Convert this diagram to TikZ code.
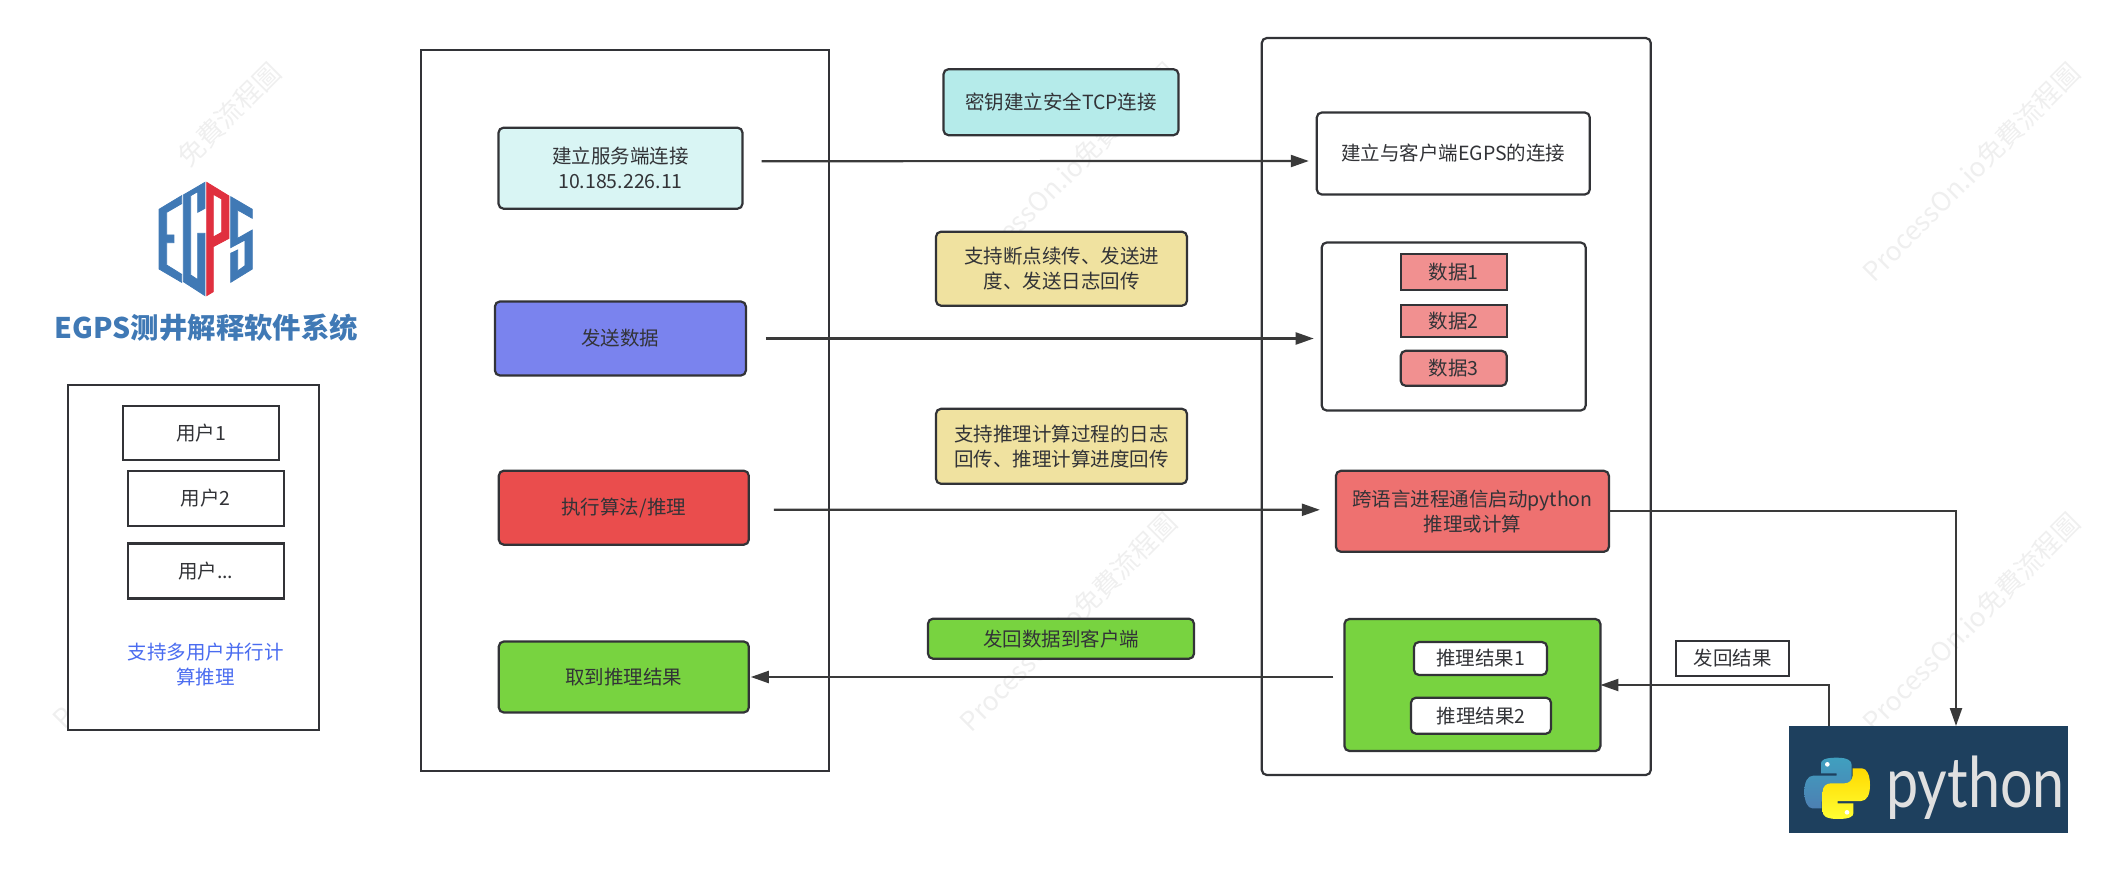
\documentclass[tikz,border=0pt]{standalone}
\usepackage{fontspec}
\usepackage{xcolor}
\usetikzlibrary{shapes.misc, arrows.meta}
\setmainfont{Noto Sans CJK SC}
\newfontfamily\wmfont{Noto Sans CJK TC}
\newfontfamily\pyfont{Lato}

\definecolor{edge}{HTML}{323337}
\definecolor{linecol}{HTML}{3A3A3A}
\definecolor{wmgray}{HTML}{EFEFEF}
\definecolor{paleteal}{HTML}{D9F5F4}
\definecolor{teal}{HTML}{B5EBEA}
\definecolor{violet}{HTML}{7A83EE}
\definecolor{sand}{HTML}{F0E2A0}
\definecolor{scarlet}{HTML}{EA4D4D}
\definecolor{coral}{HTML}{EE7170}
\definecolor{leaf}{HTML}{78D340}
\definecolor{pink}{HTML}{F19090}
\definecolor{linkblue}{HTML}{4A6CF0}
\definecolor{egpsblue}{HTML}{4079B5}
\definecolor{egpsred}{HTML}{E0303F}
\definecolor{pybg}{HTML}{1E405E}

\newcommand{\snakepath}{(78, 55) .. controls (78, 45) and (90, 38) .. (125, 38) .. controls (160, 38) and (170, 48) .. (170, 60) -- (170, 120) .. controls (170, 135) and (160, 145) .. (145, 145) -- (105, 145) .. controls (90, 145) and (80, 155) .. (80, 170) -- (80, 190) -- (52, 190) .. controls (38, 190) and (28, 170) .. (28, 140) .. controls (28, 110) and (38, 92) .. (55, 92) -- (125, 92) -- (125, 85) -- (78, 85) -- cycle}

\tikzset{
  every node/.style = {font = \fontsize{19.5}{25}\selectfont, text = edge, inner sep = 0, outer sep = 0},
  plain/.style = {draw = edge, line width = 2.2, fill = white},
  soft/.style = {plain, rounded corners = 5},
  conn/.style = {draw = linecol, line width = 2.2, -{Triangle[length = 18, width = 12]}},
  wmark/.style = {font = \wmfont\fontsize{26.5}{26.5}\selectfont, text = wmgray, rotate = 45},
  logoblue/.style = {fill = egpsblue, draw = egpsblue, line width = 0.8},
  logored/.style = {fill = egpsred, draw = egpsred, line width = 0.8},
}

\begin{document}
\begin{tikzpicture}[x = 1pt, y = -1pt]
\useasboundingbox (0, 0) rectangle (2105, 870);

\node [wmark] (wm0) at (229, 114) {免費流程圖};
\node [wmark] (wm1) at (64, 718) {P};
\node [wmark] (wm2) at (1068, 172) {ProcessOn.io免費流程圖};
\node [wmark] (wm3) at (1068, 622) {ProcessOn.io免費流程圖};
\node [wmark] (wm4) at (1971, 172) {ProcessOn.io免費流程圖};
\node [wmark] (wm5) at (1971, 622) {ProcessOn.io免費流程圖};

\begin{scope}[shift = {(150, 175)}, x = 0.3333pt, y = -0.3333pt]
\path [logoblue] (27, 103) -- (95, 62) -- (95, 86) -- (50, 112) -- (50, 180) -- (72, 180) -- (72, 203) -- (50, 203) -- (50, 270) -- (95, 298) -- (95, 322) -- (27, 282) -- cycle;
\path [logoblue] (100, 60) -- (165, 22) -- (165, 100) -- (143, 112) -- (143, 50) -- (122, 62) -- (122, 300) -- (143, 314) -- (143, 175) -- (165, 175) -- (165, 362) -- (100, 320) -- cycle;
\path [logored, even odd rule] (170, 22) -- (237, 63) -- (237, 190) -- (190, 215) -- (190, 350) -- (170, 362) -- cycle (190, 58) -- (215, 72) -- (215, 172) -- (190, 186) -- cycle;
\path [logoblue] (242, 65) -- (307, 103) -- (307, 130) -- (263, 105) -- (263, 190) -- (307, 165) -- (307, 282) -- (242, 322) -- (242, 235) -- (263, 225) -- (263, 288) -- (285, 272) -- (285, 195) -- (242, 218) -- cycle;
\end{scope}

\node [font = \bfseries\fontsize{28.4}{29}\selectfont, text = egpsblue] (title) at (206.5, 328) {EGPS测井解释软件系统};

\node [plain, minimum width = 251, minimum height = 345] (users) at (193.4, 557.8) {};
\node [plain, minimum width = 156, minimum height = 54] (user1) at (201.3, 433) {用户1};
\node [plain, minimum width = 156, minimum height = 55] (user2) at (205.7, 498.2) {用户2};
\node [plain, minimum width = 156, minimum height = 55] (user3) at (205.7, 571) {用户...};
\node [text = linkblue, align = center] (usernote) at (205.7, 665) {支持多用户并行计\\算推理};

\node [plain, minimum width = 408, minimum height = 721] (client) at (624.8, 410.5) {};
\node [soft, fill = paleteal, align = center, minimum width = 244, minimum height = 81] (linkS) at (620.5, 168.2) {建立服务端连接\\10.185.226.11};
\node [soft, fill = violet, minimum width = 251, minimum height = 74] (sendS) at (620.4, 338.5) {发送数据};
\node [soft, fill = scarlet, minimum width = 250, minimum height = 74] (runS) at (623.8, 507.7) {执行算法/推理};
\node [soft, fill = leaf, minimum width = 250, minimum height = 71] (fetchS) at (623.8, 677) {取到推理结果};

\node [soft, fill = teal, minimum width = 235, minimum height = 66] (keyTag) at (1061, 102.2) {密钥建立安全TCP连接};
\node [soft, fill = sand, align = center, minimum width = 251, minimum height = 74] (resumeTag) at (1061.5, 268.7) {支持断点续传、发送进\\度、发送日志回传};
\node [soft, fill = sand, align = center, minimum width = 251, minimum height = 75] (logTag) at (1061.5, 446.3) {支持推理计算过程的日志\\回传、推理计算进度回传};
\node [soft, fill = leaf, minimum width = 266, minimum height = 40] (backTag) at (1061, 638.7) {发回数据到客户端};

\node [soft, minimum width = 389, minimum height = 737] (server) at (1456.3, 406.5) {};
\node [soft, minimum width = 273, minimum height = 82] (linkC) at (1453.3, 153.5) {建立与客户端EGPS的连接};
\node [soft, minimum width = 264, minimum height = 168] (dataBox) at (1453.7, 326.5) {};
\node [plain, fill = pink, minimum width = 106, minimum height = 36] (data1) at (1453.7, 272) {数据1};
\node [plain, fill = pink, minimum width = 106, minimum height = 32] (data2) at (1453.7, 320.7) {数据2};
\node [soft, fill = pink, minimum width = 106, minimum height = 35] (data3) at (1453.7, 368.3) {数据3};
\node [soft, fill = coral, align = center, minimum width = 273, minimum height = 81] (runC) at (1472.4, 511.3) {跨语言进程通信启动python\\推理或计算};
\node [soft, fill = leaf, minimum width = 256, minimum height = 132] (resultBox) at (1472.4, 685) {};
\node [soft, minimum width = 133, minimum height = 33] (result1) at (1480.5, 658.5) {推理结果1};
\node [soft, minimum width = 140, minimum height = 36] (result2) at (1481, 715.7) {推理结果2};

\node [plain, minimum width = 113, minimum height = 35] (backNote) at (1732.7, 658.2) {发回结果};

\node [fill = pybg, minimum width = 279, minimum height = 107] (pyBox) at (1928.4, 779.5) {};
\node [font = \pyfont\fontsize{70}{70}\selectfont, text = black!12, anchor = base, xscale = 0.82, transform shape] (pyText) at (1975.5, 807) {python};
\begin{scope}[shift = {(1795, 745)}, x = 0.3333pt, y = -0.3333pt]
\shade [top color = blue!25!cyan!50!gray, bottom color = blue!50!cyan!40!gray] \snakepath;
\fill [white] (97, 58) circle [radius = 7];
\begin{scope}[rotate around = {180:(126.5, 130)}]
\shade [top color = yellow!70!orange, bottom color = yellow!80!white] \snakepath;
\fill [white] (97, 58) circle [radius = 7];
\end{scope}
\end{scope}

\path [conn] ([shift = {(19, -7)}]linkS.east) -- ([shift = {(-8, 7.5)}]linkC.west);
\path [conn] ([shift = {(20, 0)}]sendS.east) -- ([shift = {(-8, 12)}]dataBox.west);
\path [conn] ([shift = {(25, 2)}]runS.east) -- ([shift = {(-16, -1.5)}]runC.west);
\path [conn] ([shift = {(-11, -8)}]resultBox.west) -- ([shift = {(2, 0)}]fetchS.east);
\path [conn] (runC.east) -| ([xshift = 27.6]pyBox.north);
\path [conn] ([xshift = -99.4]pyBox.north) |- (resultBox.east);

\end{tikzpicture}
\end{document}
